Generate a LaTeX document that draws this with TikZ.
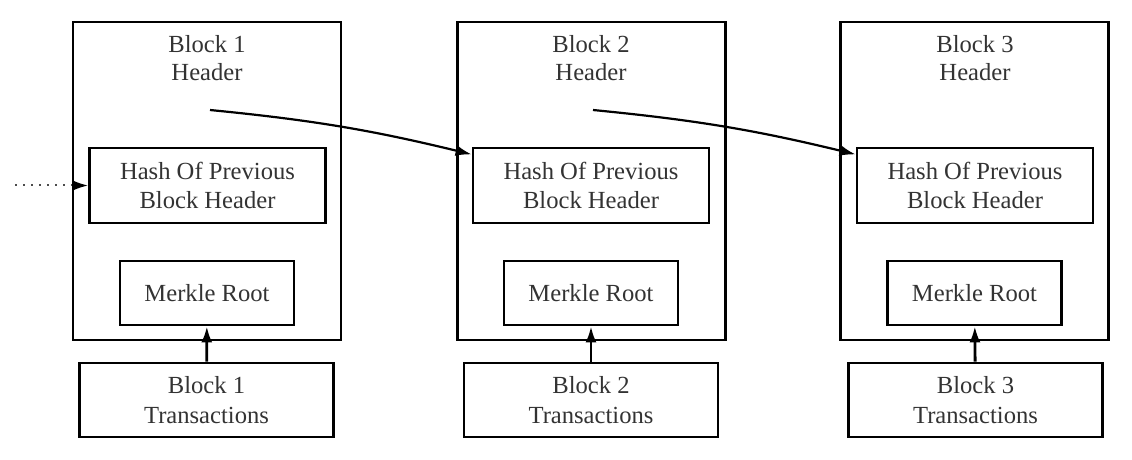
\documentclass[tikz,border=0pt]{standalone}
\usepackage{fontspec}
\setmainfont{Liberation Serif}
\usetikzlibrary{arrows.meta,calc}
\begin{document}
\begin{tikzpicture}[x=0.5pt, y=-0.5pt, >={Latex[length=8pt,width=5.5pt]},
        box/.style={draw, line width=1.4pt, inner sep=0pt, align=center, text=black!80,
            font=\fontsize{12.3pt}{14.8pt}\selectfont},
        outer/.style={box, minimum width=134pt, minimum height=159pt},
        hashbox/.style={box, minimum width=118pt, minimum height=37.5pt},
        rootbox/.style={box, minimum width=87pt, minimum height=32pt},
        txbox/.style={box, minimum width=127pt, minimum height=37pt},
        lbl/.style={align=center, text=black!80, font=\fontsize{12.3pt}{14pt}\selectfont},
        link/.style={line width=1.1pt},
        feed/.style={line width=1.4pt}]
            \useasboundingbox (0,0) rectangle (1132,460);
            % block 1
            \node[outer] (b1) at (207,181) {};
            \node[lbl] (hd1) at (207,58) {Block 1\\Header};
            \node[hashbox] (h1) at (207.5,185.5) {Hash Of Previous\\Block Header};
            \node[rootbox] (m1) at (207,293) {Merkle Root};
            \node[txbox] (t1) at (206.5,400) {Block 1\\Transactions};
            % block 2
            \node[outer] (b2) at (591.5,181) {};
            \node[lbl] (hd2) at (591,58) {Block 2\\Header};
            \node[hashbox] (h2) at (591,185.5) {Hash Of Previous\\Block Header};
            \node[rootbox] (m2) at (591,293) {Merkle Root};
            \node[txbox] (t2) at (591,400) {Block 2\\Transactions};
            % block 3
            \node[outer] (b3) at (974.5,181) {};
            \node[lbl] (hd3) at (975,58) {Block 3\\Header};
            \node[hashbox] (h3) at (975,185.5) {Hash Of Previous\\Block Header};
            \node[rootbox] (m3) at (974.5,293) {Merkle Root};
            \node[txbox] (t3) at (975.5,400) {Block 3\\Transactions};
            % links between blocks
            \coordinate (s0) at (15,185.5);
            \coordinate (p1) at (210,110);
            \coordinate (p2) at (593,110);
            \draw[-{Latex[length=8pt,width=5.5pt,color=black]}, line width=1pt,
                dash pattern=on 1.2pt off 2.8pt, black!70] (s0) -- (h1.west);
            \draw[->, link] (p1) to[bend left=4] ($(h2.north west)!0.1!(h2.south west)$);
            \draw[->, link] (p2) to[bend left=4] ($(h3.north west)!0.1!(h3.south west)$);
            \draw[->, feed] (t1) -- (m1);
            \draw[->, feed] (t2) -- (m2);
            \draw[->, feed] (t3) -- (m3);
        \end{tikzpicture}
\end{document}
